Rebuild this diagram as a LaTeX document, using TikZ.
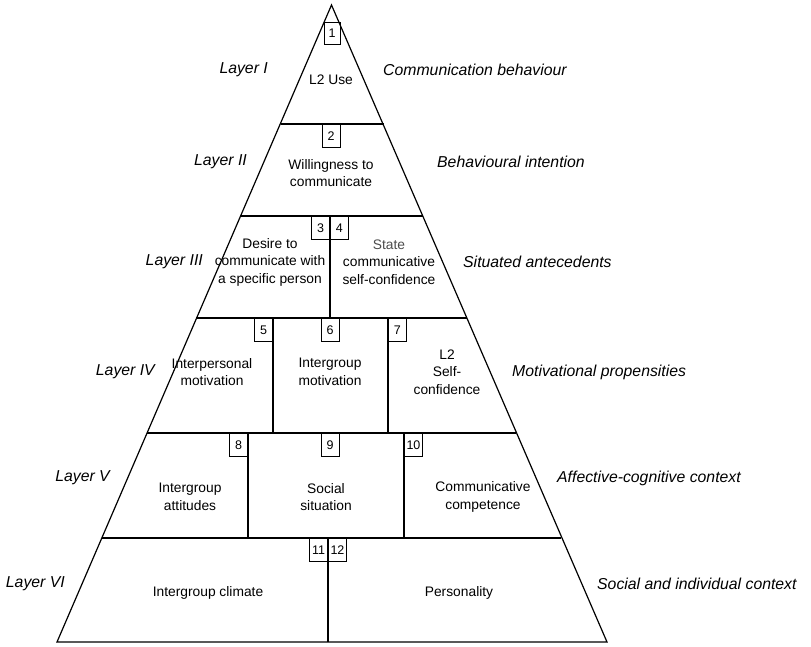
\documentclass[tikz,border=0pt]{standalone}
\usepackage{fontspec}
\setmainfont{Liberation Sans}
\begin{document}
\begin{tikzpicture}[x=1pt,y=-1pt,
  frame/.style={line width=1.2pt, line join=miter},
  cell/.style={align=center, inner sep=0pt, font=\fontsize{13.8}{17.5}\selectfont},
  numbox/.style={draw, line width=0.9pt, minimum width=18pt, minimum height=23pt,
                 inner sep=0pt, font=\fontsize{12.5}{12.5}\selectfont},
  layerlbl/.style={anchor=east, inner sep=0pt, font=\fontsize{15.8}{15.8}\selectfont\itshape},
  desclbl/.style={anchor=west, inner sep=0pt, font=\fontsize{15.8}{15.8}\selectfont\itshape}]
\useasboundingbox (0,0) rectangle (811,646);

% pyramid outline and layer boundaries
\coordinate (A) at (331.5,5);
\coordinate (L1) at (281,124);  \coordinate (R1) at (384,124);
\coordinate (L2) at (240,216);  \coordinate (R2) at (423,216);
\coordinate (L3) at (196,318);  \coordinate (R3) at (467,318);
\coordinate (L4) at (147,433);  \coordinate (R4) at (516,433);
\coordinate (L5) at (102,538);  \coordinate (R5) at (561,538);
\coordinate (L6) at (57,642);   \coordinate (R6) at (607,642);

\draw[frame] (A) -- (L6) -- (R6) -- cycle;
\draw[frame] (L1) -- (R1);
\draw[frame] (L2) -- (R2);
\draw[frame] (L3) -- (R3);
\draw[frame] (L4) -- (R4);
\draw[frame] (L5) -- (R5);

% vertical dividers inside the layers
\coordinate (d3t) at (330,216); \coordinate (d3b) at (330,318);
\coordinate (d4at) at (273,318); \coordinate (d4ab) at (273,433);
\coordinate (d4bt) at (388,318); \coordinate (d4bb) at (388,433);
\coordinate (d5at) at (248,433); \coordinate (d5ab) at (248,538);
\coordinate (d5bt) at (404,433); \coordinate (d5bb) at (404,538);
\coordinate (d6t) at (328,538); \coordinate (d6b) at (328,642);
\draw[frame] (d3t) -- (d3b);
\draw[frame] (d4at) -- (d4ab);
\draw[frame] (d4bt) -- (d4bb);
\draw[frame] (d5at) -- (d5ab);
\draw[frame] (d5bt) -- (d5bb);
\draw[frame] (d6t) -- (d6b);

% numbered boxes
\node[numbox, minimum width=16pt, minimum height=22pt] (n1) at (332,33) {1};
\node[numbox, anchor=north] (n2) at (331,124) {2};
\node[numbox, anchor=north east] (n3) at (d3t) {3};
\node[numbox, anchor=north west] (n4) at (d3t) {4};
\node[numbox, anchor=north east] (n5) at (d4at) {5};
\node[numbox, anchor=north] (n6) at (330,318) {6};
\node[numbox, anchor=north west] (n7) at (d4bt) {7};
\node[numbox, anchor=north east] (n8) at (d5at) {8};
\node[numbox, anchor=north] (n9) at (330,433) {9};
\node[numbox, anchor=north west] (n10) at (d5bt) {10};
\node[numbox, anchor=north east] (n11) at (d6t) {11};
\node[numbox, anchor=north west] (n12) at (d6t) {12};

% cell contents
\node[cell] (c1) at (331,80) {L2 Use};
\node[cell] (c2) at (331,173) {Willingness to\\communicate};
\node[cell] (c3) at (270,262) {Desire to\\communicate with\\a specific person};
\node[cell] (c4) at (389,262) {\textcolor{black!70}{State}\\communicative\\self-confidence};
\node[cell] (c5) at (212,372) {Interpersonal\\motivation};
\node[cell] (c6) at (330,372) {Intergroup\\motivation};
\node[cell] (c7) at (447,372) {L2\\Self-\\confidence};
\node[cell] (c8) at (190,497) {Intergroup\\attitudes};
\node[cell] (c9) at (326,497) {Social\\situation};
\node[cell] (c10) at (483,497) {Communicative\\competence};
\node[cell] (c11) at (208,593) {Intergroup climate};
\node[cell] (c12) at (459,593) {Personality};

% layer names on the left
\node[layerlbl] (l1) at (268,70) {Layer I};
\node[layerlbl] (l2) at (247,162) {Layer II};
\node[layerlbl] (l3) at (203,262) {Layer III};
\node[layerlbl] (l4) at (155,372) {Layer IV};
\node[layerlbl] (l5) at (110,478) {Layer V};
\node[layerlbl] (l6) at (65,584) {Layer VI};

% layer descriptions on the right
\node[desclbl] (r1) at (383,70) {Communication behaviour};
\node[desclbl] (r2) at (437,162) {Behavioural intention};
\node[desclbl] (r3) at (463,262) {Situated antecedents};
\node[desclbl] (r4) at (512,372) {Motivational propensities};
\node[desclbl] (r5) at (557,478) {Affective-cognitive context};
\node[desclbl] (r6) at (597,584) {Social and individual context};
\end{tikzpicture}
\end{document}
